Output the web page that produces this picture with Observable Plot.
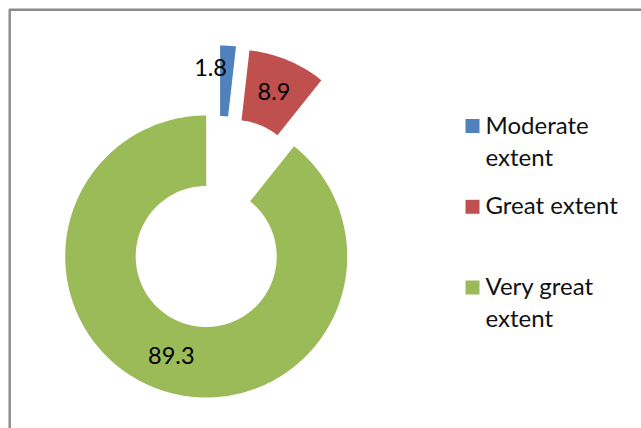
<!DOCTYPE html>
<html>
<head>
<meta charset="utf-8">
<script src="https://cdn.jsdelivr.net/npm/d3@7"></script>
<script src="https://cdn.jsdelivr.net/npm/@observablehq/plot@0.6"></script>
<style>
  html, body { margin: 0; padding: 0; background: #fff; }
  svg { display: block; }
</style>
</head>
<body>
<script>
// ---- data ----
const categories = ["Moderate extent", "Great extent", "Very great extent"];
const values = [1.8, 8.9, 89.3];
const legendLabels = ["Moderate\nextent", "Great extent", "Very great\nextent"];
const colors = ["#4F81BD", "#C0504D", "#9BBB59"];

// ---- layout (pixels / styling) ----
const W = 641, H = 428;
const cx = 205.7, cy = 256, R = 141;       // donut centre and outer radius
const innerRatio = 0.5;
const explode = [0.506, 0.507, 0];          // fraction of outer radius
const explodeTurn = [8, 0, 0];              // degrees added to bisector direction
const fontFamily = "Lato, 'Open Sans', sans-serif";
const labelSize = 23.5, legendSize = 24;

const X = px => (px - cx) / R;
const Y = py => (cy - py) / R;
const rad = d => d * Math.PI / 180;

// ---- slices ----
const total = d3.sum(values);
let acc = 0;
const slices = values.map((v, i) => {
  const a0 = acc / total * 2 * Math.PI;
  acc += v;
  const a1 = acc / total * 2 * Math.PI;
  const mid = (a0 + a1) / 2;
  const dir = mid + rad(explodeTurn[i]);
  const ox = explode[i] * Math.sin(dir), oy = explode[i] * Math.cos(dir);
  return {cat: categories[i], value: v, a0, a1, mid, ox, oy, i};
});

const pts = [];
for (const s of slices) {
  const n = Math.max(8, Math.ceil((s.a1 - s.a0) / (2 * Math.PI) * 360));
  for (let k = 0; k <= n; k++) {
    const a = s.a0 + (s.a1 - s.a0) * k / n;
    pts.push({cat: s.cat, x: s.ox + Math.sin(a), y: s.oy + Math.cos(a)});
  }
  for (let k = n; k >= 0; k--) {
    const a = s.a0 + (s.a1 - s.a0) * k / n;
    pts.push({cat: s.cat, x: s.ox + innerRatio * Math.sin(a), y: s.oy + innerRatio * Math.cos(a)});
  }
}

const rLab = (1 + innerRatio) / 2;
const labels = slices.map(s => ({
  cat: s.cat,
  text: d3.format(".1f")(s.value),
  x: s.ox + rLab * Math.sin(s.mid),
  y: s.oy + rLab * Math.cos(s.mid),
  i: s.i
}));

// legend layout
const legendSquareX = 472, legendTextX = 485;
const legendSquareY = [125.5, 206.3, 287];
const legendBaseline = [128.5, 208.5, 289];
const legend = categories.map((c, i) => ({
  cat: c,
  label: legendLabels[i],
  sx: X(legendSquareX), sy: Y(legendSquareY[i]),
  tx: X(legendTextX), ty: Y(legendBaseline[i] - 0.71 * legendSize)
}));

const chart = Plot.plot({
  width: W,
  height: H,
  margin: 0,
  style: {background: "#fff", fontFamily, overflow: "visible"},
  x: {domain: [X(0), X(W)], axis: null},
  y: {domain: [Y(H), Y(0)], axis: null},
  color: {domain: categories, range: colors},
  marks: [
    Plot.ruleX([X(9.2)], {y1: Y(9.2), y2: Y(H), stroke: "#8a8a8a", strokeWidth: 2.4}),
    Plot.ruleY([Y(9.2)], {x1: X(9.2), x2: X(W), stroke: "#8a8a8a", strokeWidth: 2.4}),
    Plot.line(pts, {x: "x", y: "y", z: "cat", fill: "cat", stroke: "none"}),
    Plot.text(labels.filter(d => d.i > 0), {x: "x", y: "y", text: "text", fontSize: labelSize, fill: "#000"}),
    Plot.text(labels.filter(d => d.i === 0), {x: "x", y: "y", text: "text", fontSize: labelSize, fill: "#000", dx: -15.5, dy: -12.4}),
    Plot.dot(legend, {x: "sx", y: "sy", symbol: "square", r: 7.9, fill: "cat", stroke: "none"}),
    Plot.text(legend, {x: "tx", y: "ty", text: "label", textAnchor: "start", lineAnchor: "top",
      lineHeight: 1.32, fontSize: legendSize, fill: "#111"})
  ]
});
document.body.appendChild(chart);
</script>
</body>
</html>
